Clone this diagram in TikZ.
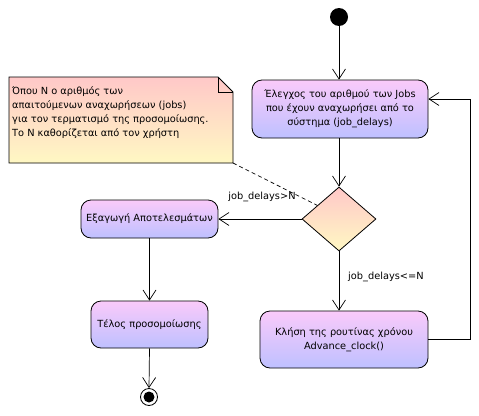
\documentclass[tikz,border=0pt]{standalone}
\usepackage{fontspec}
\setmainfont{DejaVu Sans}
\usetikzlibrary{arrows.meta,shapes.geometric,calc}
\definecolor{boxtop}{RGB}{250,202,250}
\definecolor{boxbot}{RGB}{190,192,255}
\definecolor{dtop}{RGB}{255,200,200}
\definecolor{dbot}{RGB}{255,248,195}
\tikzset{
  every node/.style={font=\fontsize{9.8pt}{14pt}\selectfont},
  actbox/.style={draw=black, line width=0.8pt, rounded corners=10pt, top color=boxtop, bottom color=boxbot, align=center, inner sep=0pt},
  decbox/.style={draw=black, line width=0.8pt, diamond, top color=dtop, bottom color=dbot, minimum width=74pt, minimum height=64pt, inner sep=0pt},
  flow/.style={draw=black, line width=0.7pt, -{Straight Barb[length=10pt,width=13pt,line width=0.7pt]}},
  plain/.style={draw=black, line width=0.7pt},
  lbl/.style={inner sep=0pt}
}
\begin{document}
\begin{tikzpicture}[x=1pt,y=-1pt]
\useasboundingbox (0,0) rectangle (479,415);
\fill[white] (0,0) rectangle (479,415);
% note
\shade[top color=dtop, bottom color=dbot, draw=black, line width=0.8pt]
  (9,77) -- (218,77) -- (233,92) -- (233,163) -- (9,163) -- cycle;
\draw[line width=0.7pt] (218,77) -- (218,92) -- (233,92);
\node[lbl, anchor=north west, align=left] (notetext) at (12,86.5)
  {Όπου Ν ο αριθμός των\\απαιτούμενων αναχωρήσεων (jobs)\\για τον τερματισμό της προσομοίωσης.\\Το Ν καθορίζεται από τον χρήστη};
\coordinate (notecorner) at (233,163);
% nodes
\node[circle, fill=black, minimum size=18pt, inner sep=0pt] (start) at (339,17) {};
\node[actbox, minimum width=176pt, minimum height=58pt] (check) at (340,109)
  {Έλεγχος του αριθμού των Jobs\\που έχουν αναχωρήσει από το\\σύστημα (job\_delays)};
\node[decbox] (dec) at (339,219) {};
\node[actbox, minimum width=137pt, minimum height=38pt] (extract) at (149.5,219) {Εξαγωγή Αποτελεσμάτων};
\node[actbox, minimum width=117pt, minimum height=47pt] (telos) at (149.5,324.5) {Τέλος προσομοίωσης};
\node[actbox, minimum width=168pt, minimum height=57pt] (klisi) at (344,339.5) {Κλήση της ρουτίνας χρόνου\\Advance\_clock()};
\node[circle, draw=black, line width=0.8pt, minimum size=17pt, inner sep=0pt] (endn) at (149,397) {};
\node[circle, fill=black, minimum size=11pt, inner sep=0pt] (endin) at (149,397) {};
% labels
\node[lbl, anchor=center] (lgt) at (262,197) {job\_delays>N};
\node[lbl, anchor=west] (lle) at (348,277) {job\_delays<=N};
% connectors
\draw[flow] (start) -- (start |- check.north);
\draw[flow] (check.south -| start) -- (dec.north);
\draw[flow] (dec.west) -- (extract.east);
\draw[flow] (extract.south -| telos) -- (telos.north);
\draw[flow] (telos.south) -- (endn.north);
\draw[flow] (dec.south) -- (dec.south |- klisi.north);
\coordinate (loopc) at (470,99);
\draw[flow] (klisi.east) -| (loopc) -- (loopc -| check.east);
\draw[plain, dashed, dash pattern=on 4pt off 3pt] (notecorner) -- ($(dec.west)!0.42!(dec.north)$);
\end{tikzpicture}
\end{document}
